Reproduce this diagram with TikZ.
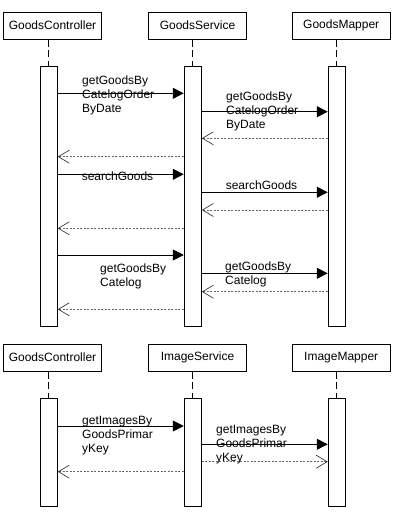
\documentclass[tikz,border=0pt]{standalone}
\usepackage{fontspec}
\setmainfont{Liberation Sans}
\usetikzlibrary{arrows.meta}
\begin{document}
\begin{tikzpicture}[x=1pt,y=-1pt,
  hdr/.style={draw, line width=0.8pt, minimum width=98.5pt, minimum height=27pt, inner sep=0pt, font=\fontsize{12}{14}\selectfont},
  actbox/.style={draw, fill=white, line width=0.8pt, minimum width=17.3pt, inner sep=0pt},
  life/.style={line width=0.8pt, dash pattern=on 7pt off 3.5pt},
  call/.style={line width=0.8pt, -{Triangle[length=11pt,width=11pt]}},
  ret/.style={line width=0.6pt, black!60, dash pattern=on 2pt off 1.5pt, -{Straight Barb[length=11pt,width=13pt,line width=0.6pt,color=black!85]}},
  retr/.style={line width=0.6pt, black!60, dash pattern=on 2pt off 1.5pt, -{Straight Barb[length=11pt,width=13pt,line width=0.6pt,color=black!85]}},
  lbl/.style={inner sep=0pt, align=left, font=\fontsize{12}{14}\selectfont, anchor=north west},
  lblc/.style={inner sep=0pt, font=\fontsize{12}{14}\selectfont}
]
\fill[white] (0,0) rectangle (401,516);
\useasboundingbox (0,0) rectangle (401,516);

% ---------- top group ----------
\node[hdr] (hc) at (52.5,25.7) {GoodsController};
\node[hdr] (hs) at (197.5,25.7) {GoodsService};
\node[hdr] (hm) at (341.2,25.7) {GoodsMapper};

\node[actbox, minimum height=260pt] (ac) at (48.7,196) {};
\node[actbox, minimum height=260pt] (as) at (192.8,196) {};
\node[actbox, minimum height=260pt] (am) at (336.8,196) {};

\draw[life] (hc.south -| ac.north) -- (ac.north);
\draw[life] (hs.south -| as.north) -- (as.north);
\draw[life] (hm.south -| am.north) -- (am.north);

% messages
\draw[call] (ac.east |- 0,93.3) -- (as.west |- 0,93.3);
\node[lbl] (l1) at (82,75.5) {getGoodsBy\\CatelogOrder\\ByDate};
\draw[call] (as.east |- 0,111.7) -- (am.west |- 0,111.7);
\node[lbl] (l2) at (226,91.5) {getGoodsBy\\CatelogOrder\\ByDate};
\draw[ret] (am.west |- 0,138.3) -- (as.east |- 0,138.3);
\draw[ret] (as.west |- 0,156.7) -- (ac.east |- 0,156.7);

\draw[call] (ac.east |- 0,174.3) -- (as.west |- 0,174.3);
\node[lblc] (l3) at (117.5,176.7) {searchGoods};
\draw[call] (as.east |- 0,192.3) -- (am.west |- 0,192.3);
\node[lblc] (l4) at (261.5,185.7) {searchGoods};
\draw[ret] (am.west |- 0,210) -- (as.east |- 0,210);
\draw[ret] (as.west |- 0,228.3) -- (ac.east |- 0,228.3);

\draw[call] (ac.east |- 0,255) -- (as.west |- 0,255);
\node[lbl] (l5) at (100,263.8) {getGoodsBy\\Catelog};
\draw[call] (as.east |- 0,273.3) -- (am.west |- 0,273.3);
\node[lbl] (l6) at (225,261.5) {getGoodsBy\\Catelog};
\draw[ret] (am.west |- 0,291.7) -- (as.east |- 0,291.7);
\draw[ret] (as.west |- 0,309.3) -- (ac.east |- 0,309.3);

% ---------- bottom group ----------
\node[hdr] (hc2) at (52.5,357.7) {GoodsController};
\node[hdr] (hs2) at (197.5,357.7) {ImageService};
\node[hdr] (hm2) at (341.2,357.7) {ImageMapper};

\node[actbox, minimum height=107.7pt] (ac2) at (48.7,452.2) {};
\node[actbox, minimum height=107.7pt] (as2) at (192.8,452.2) {};
\node[actbox, minimum height=107.7pt] (am2) at (336.8,452.2) {};

\draw[life] (hc2.south -| ac2.north) -- (ac2.north);
\draw[life] (hs2.south -| as2.north) -- (as2.north);
\draw[life] (hm2.south -| am2.north) -- (am2.north);

\draw[call] (ac2.east |- 0,426) -- (as2.west |- 0,426);
\node[lbl] (l7) at (82,416.2) {getImagesBy\\GoodsPrimar\\yKey};
\draw[call] (as2.east |- 0,444.3) -- (am2.west |- 0,444.3);
\node[lbl] (l8) at (216,425.5) {getImagesBy\\GoodsPrimar\\yKey};
\draw[retr] (as2.east |- 0,461.7) -- (am2.west |- 0,461.7);
\draw[ret] (as2.west |- 0,471.7) -- (ac2.east |- 0,471.7);
\end{tikzpicture}
\end{document}
